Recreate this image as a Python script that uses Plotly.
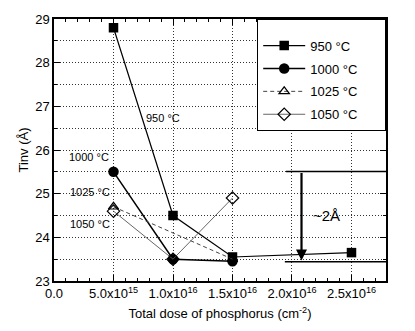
import plotly.graph_objects as go

# ---- data ----
dose_950 = [5e15, 1e16, 1.5e16, 2.5e16]
tinv_950 = [28.8, 24.5, 23.55, 23.65]
dose_1000 = [5e15, 1e16, 1.5e16]
tinv_1000 = [25.5, 23.5, 23.45]
dose_1025 = [5e15, 1.5e16]
tinv_1025 = [24.7, 23.5]
dose_1050 = [5e15, 1e16, 1.5e16]
tinv_1050 = [24.6, 23.5, 24.9]

series_names = ["950 °C", "1000 °C", "1025 °C", "1050 °C"]

x_tickvals = [0, 5e15, 1e16, 1.5e16, 2e16, 2.5e16]
x_ticktext = ["0.0", "5.0x10<sup>15</sup>", "1.0x10<sup>16</sup>", "1.5x10<sup>16</sup>",
              "2.0x10<sup>16</sup>", "2.5x10<sup>16</sup>"]
y_tickvals = [23, 24, 25, 26, 27, 28, 29]

FONT = "Liberation Sans, Arial, sans-serif"
PAD = "\u00a0" * 6
GRID = "#333"
GDASH = "1px,2px"

fig = go.Figure()
fig.add_trace(go.Scatter(x=dose_950, y=tinv_950, name=series_names[0] + PAD, mode="lines+markers",
                         legendgroup="a",
                         line=dict(color="black", width=1.2),
                         marker=dict(symbol="square", size=9.5, color="black")))
fig.add_trace(go.Scatter(x=dose_1000, y=tinv_1000, name=series_names[1] + PAD, mode="lines+markers",
                         legendgroup="b",
                         line=dict(color="black", width=1.5),
                         marker=dict(symbol="circle", size=10.5, color="black")))
fig.add_trace(go.Scatter(x=dose_1025, y=tinv_1025, name=series_names[2] + PAD, mode="lines+markers",
                         legendgroup="c",
                         line=dict(color="#444", width=1, dash="4px,3px"),
                         marker=dict(symbol="triangle-up-open", size=9, color="black",
                                     line=dict(width=1.2))))
fig.add_trace(go.Scatter(x=dose_1050, y=tinv_1050, name=series_names[3] + PAD, mode="lines+markers",
                         legendgroup="d",
                         line=dict(color="#555", width=0.9),
                         marker=dict(symbol="diamond-open", size=9.5, color="black",
                                     line=dict(width=1.2))))

axis_common = dict(showline=True, linecolor="black", linewidth=1.5,
                   ticks="inside", tickcolor="black", tickwidth=1.2, ticklen=6,
                   tickfont=dict(family=FONT, size=13, color="black"),
                   zeroline=False)

fig.update_layout(
    width=415, height=331,
    margin=dict(l=54, r=29, t=15, b=48),
    paper_bgcolor="white", plot_bgcolor="white",
    font=dict(family=FONT, size=13, color="black"),
    showlegend=True,
    legend=dict(x=1, y=1, xanchor="right", yanchor="top",
                bordercolor="black", borderwidth=1.2, bgcolor="white",
                font=dict(family=FONT, size=13), tracegroupgap=3, itemwidth=42,
                title=dict(text=" ", font=dict(size=8))),
    xaxis=dict(range=[0, 2.79e16], tickvals=x_tickvals, ticktext=x_ticktext,
               mirror="ticks", showgrid=True, gridcolor=GRID, griddash=GDASH, gridwidth=1,
               title=dict(text="Total dose of phosphorus (cm<sup>-2</sup>)",
                          font=dict(family=FONT, size=13), standoff=9),
               minor=dict(dtick=1e15, tick0=0, ticks="inside", ticklen=3, tickcolor="black",
                          showgrid=False),
               **axis_common),
    yaxis=dict(range=[23, 29], tickvals=y_tickvals, mirror="ticks",
               showgrid=True, gridcolor=GRID, griddash=GDASH, gridwidth=1,
               title=dict(text="Tinv (Å)", font=dict(family=FONT, size=13), standoff=4),
               minor=dict(dtick=0.5, tick0=23, ticks="inside", ticklen=3, tickcolor="black",
                          showgrid=True, gridcolor=GRID, griddash=GDASH, gridwidth=1),
               **axis_common),
    yaxis2=dict(range=[23, 29], tickvals=y_tickvals, overlaying="y", side="right",
                showgrid=False, ticks="", showline=False, zeroline=False,
                tickfont=dict(family=FONT, size=13, color="black")),
)

# series labels
labels = [(series_names[0], 9.2e15, 26.73), (series_names[1], 2.9e15, 25.83),
          (series_names[2], 3.0e15, 25.03), (series_names[3], 3.0e15, 24.3)]
for txt, lx, ly in labels:
    fig.add_annotation(x=lx, y=ly, text=txt, showarrow=False, bgcolor="rgba(0,0,0,0)",
                       font=dict(family=FONT, size=11, color="#000000"))

# bracket lines and arrow
fig.add_shape(type="line", x0=1.95e16, x1=2.79e16, y0=25.51, y1=25.51,
              line=dict(color="black", width=1.5))
fig.add_shape(type="line", x0=1.94e16, x1=2.79e16, y0=23.44, y1=23.44,
              line=dict(color="black", width=1.5))
fig.add_annotation(x=2.08e16, y=23.47, ax=2.08e16, ay=25.51, axref="x", ayref="y",
                   xref="x", yref="y", showarrow=True, arrowhead=2, arrowsize=1,
                   arrowwidth=2.2, arrowcolor="black", text="")
fig.add_annotation(x=2.29e16, y=24.5, text="~2Å", showarrow=False,
                   font=dict(family=FONT, size=15, color="black"))

fig.write_html("out.html")
